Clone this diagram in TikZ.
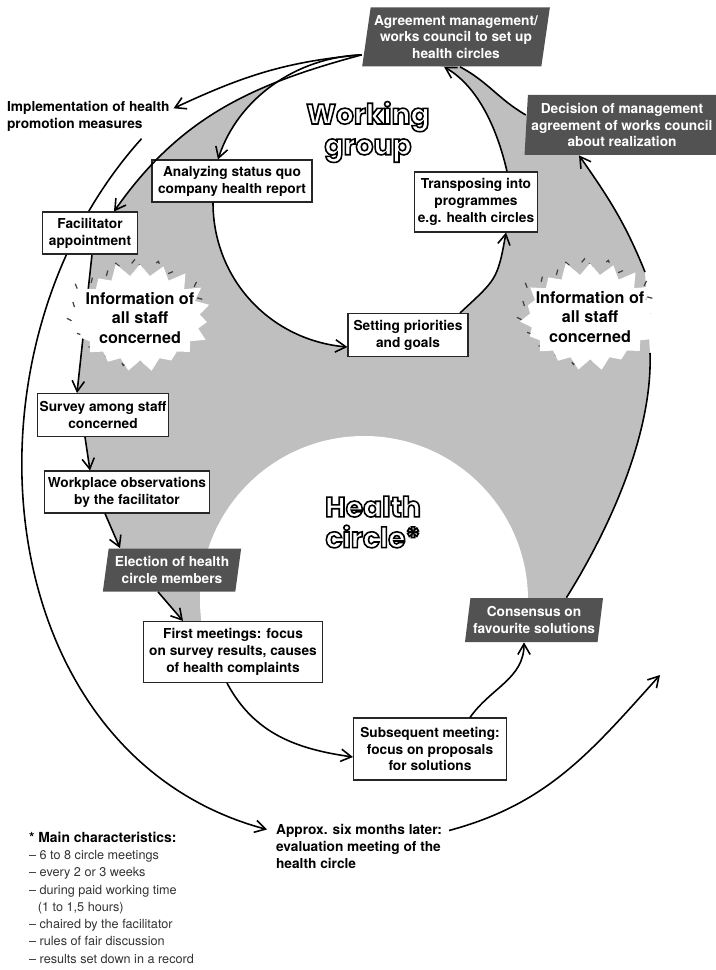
\documentclass[tikz,border=0pt]{standalone}
\usepackage{fontspec}
\setmainfont{TeX Gyre Heros}
\newfontfamily\titlefont{Poppins}
\usepackage{tikz}
\usetikzlibrary{shapes.geometric, shapes.symbols, arrows.meta, positioning, backgrounds}

\begin{document}
\begin{tikzpicture}[
    x=0.2mm, y=-0.2mm,
    box/.style={
        rectangle, draw=black!85, line width=0.6pt, fill=white,
        inner sep=1pt, text centered, align=center,
        font=\bfseries\fontsize{7.8}{9.6}\selectfont
    },
    darkbox/.style={
        trapezium, trapezium left angle=80, trapezium right angle=100,
        trapezium stretches=true, fill=black!68, text=white,
        inner sep=1pt, align=center,
        font=\bfseries\fontsize{7.8}{9.6}\selectfont
    },
    burst/.style={
        starburst, starburst points=19, starburst point height=0.3cm,
        random starburst=11, fill=white, inner sep=0pt,
        minimum width=3cm, minimum height=2.3cm
    },
    burstedge/.style={burst, fill=none, draw=black!75, line width=0.7pt,
        dash pattern=on 3pt off 10pt},
    bursttext/.style={font=\bfseries\fontsize{9.2}{11}\selectfont, align=center},
    arrow/.style={-{Straight Barb[length=6pt,width=7pt]}, line width=0.9pt},
    link/.style={line width=0.9pt},
    title/.style={font=\titlefont\bfseries\fontsize{16}{17.5}\selectfont, align=center,
        execute at begin node={\special{pdf:literal direct 2 Tr 0.9 w 0 G 1 g}},
        execute at end node={\special{pdf:literal direct 0 Tr 0 g 0 G}}},
    note/.style={font=\bfseries\fontsize{7.8}{9.8}\selectfont, align=left, inner sep=1pt},
]
\useasboundingbox (0,0) rectangle (715,970);

% Boxes
\node[darkbox, minimum width=3.76cm, minimum height=1.18cm] (agree) at (456,37)
    {Agreement management/\\works council to set up\\health circles};
\node[darkbox, trapezium left angle=86, trapezium right angle=94,
      minimum width=3.9cm, minimum height=1.2cm] (dec) at (622,125)
    {Decision of management\\agreement of works council\\about realization};
\node[box, minimum width=3.2cm, minimum height=0.84cm] (anal) at (232,181)
    {Analyzing status quo\\company health report};
\node[box, minimum width=2.4cm, minimum height=0.86cm] (set) at (408,335)
    {Setting priorities\\and goals};
\node[box, minimum width=2.46cm, minimum height=1.2cm] (trans) at (476,202)
    {Transposing into\\programmes\\e.g. health circles};
\node[box, minimum width=1.9cm, minimum height=0.84cm] (fac) at (90,233)
    {Facilitator\\appointment};
\node[box, minimum width=2.6cm, minimum height=0.86cm] (survey) at (103,415)
    {Survey among staff\\concerned};
\node[box, minimum width=3.3cm, minimum height=0.84cm] (work) at (127,492)
    {Workplace observations\\by the facilitator};
\node[darkbox, minimum width=2.78cm, minimum height=0.86cm] (elect) at (172,570)
    {Election of health\\circle members};
\node[box, minimum width=3.58cm, minimum height=1.22cm] (first) at (233,652)
    {First meetings: focus\\on survey results, causes\\of health complaints};
\node[box, minimum width=3.06cm, minimum height=1.24cm] (subs) at (430,749)
    {Subsequent meeting:\\focus on proposals\\for solutions};
\node[darkbox, minimum width=2.78cm, minimum height=0.88cm] (cons) at (534,620)
    {Consensus on\\favourite solutions};

% Information bursts
\node[burstedge] (info1e) at (135,313) {};
\node[burst] (info1) at (140,318) {};
\node[bursttext] (info1t) at (info1) {Information of\\all staff\\concerned};
\node[burstedge] (info2e) at (585,312) {};
\node[burst] (info2) at (590,317) {};
\node[bursttext] (info2t) at (info2) {Information of\\all staff\\concerned};

% Free texts
\node[note, anchor=north west] (impl) at (5,99)
    {Implementation of health\\promotion measures};
\node[note, anchor=north west] (approx) at (274,822)
    {Approx. six months later:\\evaluation meeting of the\\health circle};
\node[anchor=north west, align=left, inner sep=1pt, text=black!80,
      font=\fontsize{7.2}{9.8}\selectfont] (chars) at (27,830)
    {{\color{black}\bfseries\fontsize{7.9}{9.8}\selectfont * Main characteristics:}\\
     -- 6 to 8 circle meetings\\
     -- every 2 or 3 weeks\\
     -- during paid working time\\
     \hspace*{0.7em}(1 to 1,5 hours)\\
     -- chaired by the facilitator\\
     -- rules of fair discussion\\
     -- results set down in a record};

% Titles
\node[title] (wgt) at (368,132) {Working\\group};
\node[title] (hct) at (373,522) {Health\\circle*};

\coordinate (agl) at ([shift={(0,-12)}]agree.bottom left corner);

% Grey band and white circles
\begin{scope}[on background layer]
\fill[black!25] (agl)
    to[out=195,in=55] ([shift={(24,0)}]fac.north)
    -- ([shift={(2,0)}]fac.south) -- ([shift={(-26,0)}]survey.north)
    -- ([shift={(-18,0)}]survey.south) -- ([shift={(-37,0)}]work.north)
    -- ([shift={(-22,0)}]work.south) -- ([shift={(-52,0)}]elect.north)
    -- ([shift={(-14,0)}]elect.south) -- ([shift={(-50,0)}]first.north)
    -- (250,645) -- (520,605)
    -- ([shift={(-37,0)}]cons.top right corner)
    to[out=58,in=-88,looseness=0.8] ([shift={(60,36)}]info2.center)
    -- ([shift={(55,-45)}]info2.center)
    to[out=112,in=-55] ([shift={(-43,0)}]dec.south)
    -- ([shift={(0,-10)}]dec.west)
    to[out=150,in=-28] ([shift={(4,0)}]agree.south)
    -- cycle;
\fill[white] (agl)
    to[out=182,in=72,looseness=0.93] ([shift={(-14,0)}]anal.north)
    -- ([shift={(-19,0)}]anal.south)
    to[out=-90,in=175,looseness=1] ([shift={(0,12)}]set.west)
    -- ([shift={(52,0)}]set.north)
    to[out=43,in=-100,looseness=1.35] ([shift={(30,0)}]trans.south)
    -- ([shift={(31,0)}]trans.north)
    to[out=103,in=-30,looseness=0.86] ([shift={(-12,0)}]agree.south)
    -- cycle;
\fill[white] (364,600) circle[radius=3.28cm];

% lines behind bursts and boxes
\draw[arrow] ([shift={(2,0)}]fac.south) -- ([shift={(-26,0)}]survey.north);
\draw[link] ([shift={(-37,0)}]cons.top right corner)
    to[out=58,in=-88,looseness=0.8] ([shift={(60,36)}]info2.center);
\draw[arrow] ([shift={(55,-45)}]info2.center)
    to[out=112,in=-55] ([shift={(-43,0)}]dec.south);
\draw[arrow] ([shift={(-30,5)}]impl.south east)
    to[out=228,in=165,looseness=1.05] ([shift={(-7,-17)}]approx.west);
\end{scope}

% From the agreement
\draw[arrow] (agl) to[out=185,in=25] ([shift={(2,-8)}]impl.east);
\draw[arrow] (agl) to[out=195,in=55] ([shift={(24,0)}]fac.north);
\draw[arrow] (agl) to[out=182,in=72,looseness=0.93] ([shift={(-14,0)}]anal.north);

% Working group
\draw[arrow] ([shift={(-19,0)}]anal.south)
    to[out=-90,in=175,looseness=1] ([shift={(0,12)}]set.west);
\draw[arrow] ([shift={(52,0)}]set.north)
    to[out=43,in=-100,looseness=1.35] ([shift={(30,0)}]trans.south);
\draw[arrow] ([shift={(31,0)}]trans.north)
    to[out=103,in=-30,looseness=0.86] ([shift={(-12,0)}]agree.south);
\draw[link] ([shift={(0,-10)}]dec.west)
    to[out=150,in=-28] ([shift={(4,0)}]agree.south);

% Health circle
\draw[arrow] ([shift={(-18,0)}]survey.south) -- ([shift={(-37,0)}]work.north);
\draw[arrow] ([shift={(-22,0)}]work.south) -- ([shift={(-52,0)}]elect.north);
\draw[arrow] ([shift={(-14,0)}]elect.south) -- ([shift={(-50,0)}]first.north);
\draw[arrow] ([shift={(-6,0)}]first.south)
    to[out=-62,in=172] ([shift={(0,8)}]subs.west);
\draw[arrow] ([shift={(40,0)}]subs.north)
    to[out=55,in=-90] ([shift={(-10,0)}]cons.south);

% Back to the start
\coordinate (back) at (660,675);
\draw[arrow] ([shift={(5,-16)}]approx.east) to[out=15,in=228] (back);

\end{tikzpicture}
\end{document}
